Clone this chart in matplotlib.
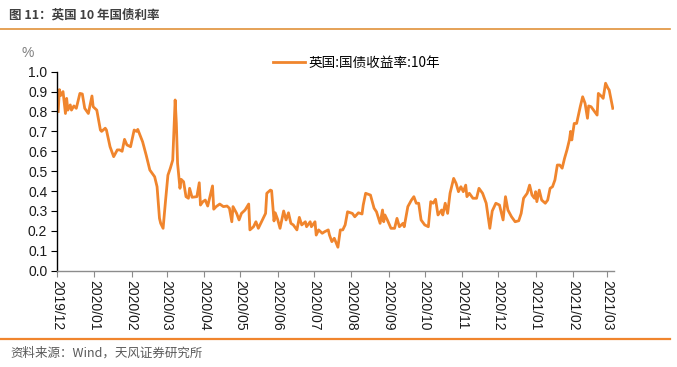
import numpy as np
import pandas as pd
import matplotlib
matplotlib.use("Agg")
import matplotlib.pyplot as plt
import matplotlib.dates as mdates
from matplotlib.lines import Line2D

# UK 10y gilt yield
dates = [
    "2019-12-02", "2019-12-03", "2019-12-04", "2019-12-06", "2019-12-08", "2019-12-09",
    "2019-12-10", "2019-12-12", "2019-12-13", "2019-12-15", "2019-12-17", "2019-12-20",
    "2019-12-22", "2019-12-24", "2019-12-27", "2019-12-30", "2019-12-31",
    "2020-01-03", "2020-01-06", "2020-01-07", "2020-01-10", "2020-01-11", "2020-01-14",
    "2020-01-17", "2020-01-20", "2020-01-22", "2020-01-24", "2020-01-26", "2020-01-28",
    "2020-01-31", "2020-02-03", "2020-02-05", "2020-02-06", "2020-02-10", "2020-02-13",
    "2020-02-16", "2020-02-20", "2020-02-22", "2020-02-24", "2020-02-25", "2020-02-27",
    "2020-02-29", "2020-03-02", "2020-03-04", "2020-03-06", "2020-03-08", "2020-03-09",
    "2020-03-10", "2020-03-12", "2020-03-13", "2020-03-15", "2020-03-17", "2020-03-19",
    "2020-03-20", "2020-03-22", "2020-03-26", "2020-03-28", "2020-03-29", "2020-03-31",
    "2020-04-02", "2020-04-04", "2020-04-06", "2020-04-08", "2020-04-09", "2020-04-11",
    "2020-04-14", "2020-04-17", "2020-04-20", "2020-04-22", "2020-04-24", "2020-04-25",
    "2020-04-28", "2020-04-30", "2020-05-02", "2020-05-05", "2020-05-08", "2020-05-09",
    "2020-05-12", "2020-05-14", "2020-05-16", "2020-05-19", "2020-05-22", "2020-05-23",
    "2020-05-26", "2020-05-27", "2020-05-29", "2020-05-30", "2020-06-01", "2020-06-03",
    "2020-06-06", "2020-06-08", "2020-06-10", "2020-06-12", "2020-06-14", "2020-06-17",
    "2020-06-19", "2020-06-21", "2020-06-24", "2020-06-25", "2020-06-28", "2020-06-29",
    "2020-07-02", "2020-07-03", "2020-07-05", "2020-07-08", "2020-07-10", "2020-07-13",
    "2020-07-14", "2020-07-16", "2020-07-18", "2020-07-21", "2020-07-23", "2020-07-25",
    "2020-07-27", "2020-07-29", "2020-08-02", "2020-08-04", "2020-08-07", "2020-08-10",
    "2020-08-11", "2020-08-13", "2020-08-17", "2020-08-20", "2020-08-22", "2020-08-25",
    "2020-08-27", "2020-08-28", "2020-08-29", "2020-08-31", "2020-09-03", "2020-09-06",
    "2020-09-08", "2020-09-10", "2020-09-13", "2020-09-14", "2020-09-17", "2020-09-20",
    "2020-09-22", "2020-09-24", "2020-09-26", "2020-09-28", "2020-10-01", "2020-10-04",
    "2020-10-06", "2020-10-08", "2020-10-10", "2020-10-12", "2020-10-15", "2020-10-16",
    "2020-10-18", "2020-10-20", "2020-10-22", "2020-10-25", "2020-10-27", "2020-10-29",
    "2020-10-31", "2020-11-02", "2020-11-04", "2020-11-05", "2020-11-07", "2020-11-10",
    "2020-11-13", "2020-11-15", "2020-11-18", "2020-11-21", "2020-11-23", "2020-11-24",
    "2020-11-26", "2020-11-29", "2020-12-02", "2020-12-05", "2020-12-07", "2020-12-09",
    "2020-12-12", "2020-12-15", "2020-12-18", "2020-12-20", "2020-12-22", "2020-12-25",
    "2020-12-27", "2020-12-29", "2020-12-31", "2021-01-01", "2021-01-02", "2021-01-04",
    "2021-01-06", "2021-01-09", "2021-01-11", "2021-01-13", "2021-01-15", "2021-01-17",
    "2021-01-19", "2021-01-21", "2021-01-23", "2021-01-25", "2021-01-27", "2021-01-29",
    "2021-01-30", "2021-01-31", "2021-02-02", "2021-02-04", "2021-02-07", "2021-02-09",
    "2021-02-11", "2021-02-13", "2021-02-14", "2021-02-16", "2021-02-18", "2021-02-21",
    "2021-02-22", "2021-02-25", "2021-02-26", "2021-02-28", "2021-03-02", "2021-03-03",
    "2021-03-06",
]
yields = [
    0.80, 0.91, 0.88, 0.90, 0.79, 0.866,
    0.807, 0.833, 0.807, 0.828, 0.816, 0.891,
    0.888, 0.816, 0.79, 0.878, 0.824,
    0.807, 0.707, 0.70, 0.716, 0.707, 0.623,
    0.573, 0.607, 0.607, 0.60, 0.66, 0.632,
    0.623, 0.707, 0.70, 0.71, 0.648, 0.58,
    0.506, 0.472, 0.422, 0.263, 0.238, 0.213,
    0.35, 0.48, 0.515, 0.556, 0.858, 0.74,
    0.54, 0.414, 0.459, 0.447, 0.372, 0.364,
    0.414, 0.369, 0.372, 0.442, 0.33, 0.347,
    0.355, 0.325, 0.375, 0.426, 0.309, 0.322,
    0.335, 0.322, 0.325, 0.314, 0.246, 0.322,
    0.288, 0.255, 0.288, 0.305, 0.335, 0.205,
    0.221, 0.246, 0.213, 0.251, 0.288, 0.389,
    0.405, 0.402, 0.25, 0.291, 0.258, 0.213,
    0.30, 0.255, 0.291, 0.238, 0.23, 0.205,
    0.268, 0.23, 0.246, 0.221, 0.246, 0.221,
    0.246, 0.179, 0.205, 0.188, 0.196, 0.205,
    0.179, 0.146, 0.163, 0.118, 0.205, 0.205,
    0.23, 0.296, 0.288, 0.271, 0.291, 0.285,
    0.33, 0.389, 0.38, 0.314, 0.296, 0.238,
    0.305, 0.246, 0.28, 0.255, 0.213, 0.213,
    0.263, 0.221, 0.238, 0.221, 0.322, 0.355,
    0.372, 0.339, 0.339, 0.255, 0.23, 0.221,
    0.347, 0.339, 0.359, 0.28, 0.305, 0.28,
    0.339, 0.288, 0.389, 0.464, 0.439, 0.397,
    0.422, 0.397, 0.43, 0.372, 0.389, 0.364,
    0.364, 0.414, 0.389, 0.339, 0.255, 0.213,
    0.30, 0.339, 0.33, 0.255, 0.372, 0.305,
    0.271, 0.246, 0.251, 0.288, 0.364, 0.389,
    0.43, 0.38, 0.364, 0.397, 0.347, 0.405,
    0.355, 0.339, 0.355, 0.414, 0.422, 0.456,
    0.531, 0.531, 0.515, 0.565, 0.607, 0.657,
    0.70, 0.657, 0.74, 0.74, 0.824, 0.874,
    0.841, 0.766, 0.828, 0.824, 0.807, 0.782,
    0.891, 0.874, 0.866, 0.942, 0.917, 0.908,
    0.816,
]
series_name = "英国:国债收益率:10年"
title = "图 11：英国 10 年国债利率"
source = "资料来源：Wind，天风证券研究所"

line_color = "#F0852D"
rule_color = "#E0913A"
latin_cjk = ["Liberation Sans", "Noto Sans CJK SC", "DejaVu Sans"]
cjk_latin = ["Noto Sans CJK SC", "DejaVu Sans"]

s = pd.Series(yields, index=pd.to_datetime(dates))

fig = plt.figure(figsize=(6.77, 3.67), dpi=100)
W, H = 677, 367
ax = fig.add_axes([57 / W, 1 - 270.7 / H, (614 - 57) / W, (270.7 - 71.7) / H])

ax.plot(s.index, s.values, color=line_color, lw=2.0, solid_joinstyle="round")

ax.set_ylim(0, 1.0)
ax.set_yticks(np.arange(0, 1.01, 0.1))
ax.yaxis.set_major_formatter(plt.FormatStrFormatter("%.1f"))
ax.set_xlim(pd.Timestamp("2019-12-01"), pd.Timestamp("2021-03-07"))
ax.xaxis.set_major_locator(mdates.MonthLocator())
ax.xaxis.set_major_formatter(mdates.DateFormatter("%Y/%m"))

for side in ["top", "right"]:
    ax.spines[side].set_visible(False)
ax.spines["left"].set_color("#000000")
ax.spines["left"].set_linewidth(1.0)
ax.spines["bottom"].set_color("#8c8c8c")
ax.spines["bottom"].set_linewidth(1.0)
ax.tick_params(axis="y", direction="out", length=4, width=0.8, color="#000000", pad=3)
ax.tick_params(axis="x", direction="out", length=4, width=0.8, color="#8c8c8c", pad=3)
for lab in ax.get_yticklabels():
    lab.set_fontfamily(latin_cjk)
    lab.set_fontsize(10)
    lab.set_color("#1a1a1a")
for lab in ax.get_xticklabels():
    lab.set_fontfamily(latin_cjk)
    lab.set_fontsize(10)
    lab.set_color("#1a1a1a")
    lab.set_rotation(-90)
    lab.set_ha("center")
    lab.set_va("top")

fig.text(22 / W, 1 - 53 / H, "%", fontsize=10, color="#7f7f7f",
         family=latin_cjk, va="center", ha="left")

handle = Line2D([], [], color=line_color, lw=2.0)
fig.legend([handle], [series_name], loc="center left",
           bbox_to_anchor=(268 / W, 1 - 63 / H), frameon=False,
           handlelength=2.3, handletextpad=0.3, borderaxespad=0,
           prop={"family": cjk_latin, "size": 9.8})

fig.text(9 / W, 1 - 15 / H, title, fontsize=9, fontweight="bold",
         color="#404040", family=cjk_latin, va="center", ha="left")
fig.add_artist(Line2D([0, 670 / W], [1 - 28.5 / H, 1 - 28.5 / H],
                      transform=fig.transFigure, color=rule_color, lw=1.2))
fig.add_artist(Line2D([0, 670 / W], [1 - 338.5 / H, 1 - 338.5 / H],
                      transform=fig.transFigure, color=line_color, lw=1.6))
fig.text(10 / W, 1 - 353 / H, source, fontsize=9, color="#595959",
         family=cjk_latin, va="center", ha="left")

fig.savefig("out.png", dpi=100)
